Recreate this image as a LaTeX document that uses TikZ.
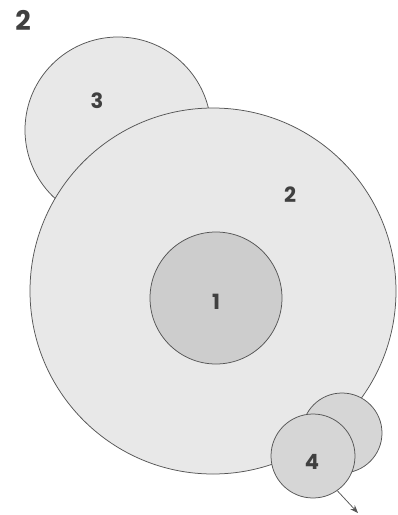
\documentclass[tikz,border=0pt]{standalone}
\usepackage{fontspec}
\setmainfont{Poppins}
\usetikzlibrary{arrows.meta}
\definecolor{lite}{HTML}{E8E8E8}
\definecolor{mid}{HTML}{D6D6D6}
\definecolor{dark}{HTML}{CDCDCD}
\definecolor{edge}{HTML}{555555}
\definecolor{ink}{HTML}{404040}
\begin{document}
\begin{tikzpicture}[x=1pt,y=-1pt,
  disc/.style={circle,draw=edge,line width=0.75pt,inner sep=0pt},
  lbl/.style={text=ink,font=\fontsize{21}{21}\selectfont\bfseries,inner sep=0pt}]
\useasboundingbox (0,0) rectangle (398,515);
\fill[white] (0,0) rectangle (398,515);
\node[lbl,font=\fontsize{27}{27}\selectfont\bfseries] (title) at (23,20) {2};
\node[disc,fill=lite,minimum size=186pt] (c3) at (118,130) {};
\node[disc,fill=lite,minimum size=366pt] (c2) at (213,291) {};
\node[disc,fill=dark,minimum size=132pt] (c1) at (216,298) {};
\node[disc,fill=mid,minimum size=80pt] (c4b) at (342,433) {};
\node[disc,fill=mid,minimum size=84pt] (c4) at (313,456) {};
\node[lbl] (l3) at (97,101) {3};
\node[lbl] (l2) at (290,195) {2};
\node[lbl] (l1) at (216,302) {1};
\node[lbl] (l4) at (312,462) {4};
\coordinate (tip) at (358,513);
\draw[edge,line width=0.75pt,-{Stealth[length=8pt,width=6pt]}] (c4.-55) -- (tip);
\end{tikzpicture}
\end{document}
